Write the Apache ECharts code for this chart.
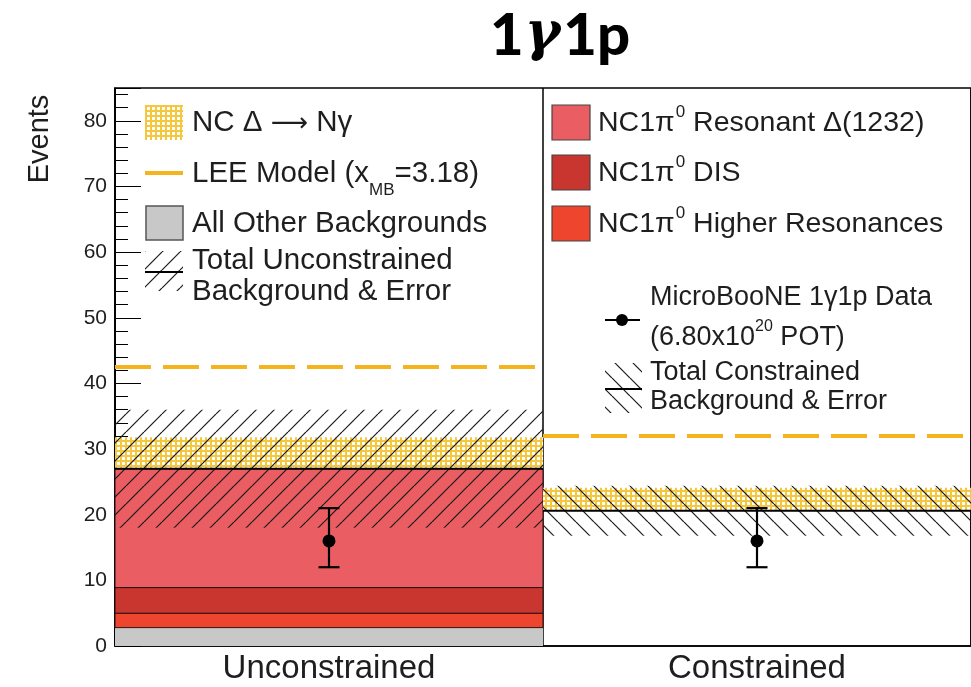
<!DOCTYPE html>
<html><head><meta charset="utf-8">
<script src="https://cdn.jsdelivr.net/npm/echarts@6/dist/echarts.min.js"></script>
<style>html,body{margin:0;padding:0;background:#fff}#c{width:971px;height:687px}</style>
</head><body><div id="c"></div>
<script>
// ---------------- data ----------------
const categories = ['Unconstrained', 'Constrained'];
const otherBkg        = [2.8, null];
const nc1pi0HigherRes = [2.2, null];
const nc1pi0DIS       = [3.9, null];
const nc1pi0ResDelta  = [18.1, null];
const totalBkg        = [27.0, 20.6];
const totalBkgErr     = [9.0, 3.8];
const ncDeltaNgamma   = [4.8, 3.5];
const leeModel        = [42.5, 32.0];
const dataCounts      = [16, 16];
const dataErrDown     = [4.0, 4.0];
const dataErrUp       = [5.0, 5.0];
const yMin = 0, yMax = 85, yInterval = 10;

// ---------------- styles ----------------
const FONT = "'Liberation Sans', Arial, Helvetica, sans-serif";
const TXT = '#1e1e1e';
const C_GRAY = '#C8C8C8', C_HR = '#EE452F', C_DIS = '#C9362F', C_RES = '#EA5E63';
const C_YEL = '#F4C73C', C_LEE = '#F3B41E';

function hatchCanvas(dir) {
  const s = 18, c = document.createElement('canvas'); c.width = s; c.height = s;
  const g = c.getContext('2d'); g.strokeStyle = '#1a1a1a'; g.lineWidth = 1.2;
  for (const o of [-s, 0, s]) {
    g.beginPath();
    if (dir > 0) { g.moveTo(o, s); g.lineTo(o + s, 0); } else { g.moveTo(o, 0); g.lineTo(o + s, s); }
    g.stroke();
  }
  return c;
}
function gridCanvas() {
  const c = document.createElement('canvas'); c.width = 5; c.height = 5;
  const g = c.getContext('2d');
  g.fillStyle = '#fff'; g.fillRect(0, 0, 5, 5);
  g.fillStyle = C_YEL; g.fillRect(0, 0, 5, 2); g.fillRect(0, 0, 2, 5);
  return c;
}
const P_GRID = { image: gridCanvas(), repeat: 'repeat' };
const P_HATCH_F = { image: hatchCanvas(1), repeat: 'repeat' };
const P_HATCH_B = { image: hatchCanvas(-1), repeat: 'repeat' };

// ---------------- build bands from data ----------------
const stackDefs = [
  { vals: otherBkg, color: C_GRAY, stroke: null },
  { vals: nc1pi0HigherRes, color: C_HR, stroke: '#2a1010' },
  { vals: nc1pi0DIS, color: C_DIS, stroke: '#2a1010' },
  { vals: nc1pi0ResDelta, color: C_RES, stroke: '#2a1010' }
];
const cum = categories.map(() => 0);
const stackSeries = stackDefs.map((d, k) => {
  const data = [];
  categories.forEach((c, i) => {
    const v = d.vals[i];
    if (v == null) return;
    data.push([i, cum[i], cum[i] + v]);
    cum[i] += v;
  });
  return { type: 'custom', name: 'stack' + k, renderItem: rectItem(d.color, d.stroke, 1), data, encode: { x: 0, y: [1, 2] }, silent: true };
});
const ncDeltaData = categories.map((c, i) => [i, totalBkg[i], totalBkg[i] + ncDeltaNgamma[i]]);
const errData = categories.map((c, i) => [i, totalBkg[i] - totalBkgErr[i], totalBkg[i] + totalBkgErr[i]]);
const totalData = categories.map((c, i) => [i, totalBkg[i]]);
const leeData = categories.map((c, i) => [i, leeModel[i]]);
const obsData = categories.map((c, i) => [i, dataCounts[i], dataCounts[i] - dataErrDown[i], dataCounts[i] + dataErrUp[i]]);

function rectItem(fill, stroke, lw) {
  return function (params, api) {
    const c = api.value(0), lo = api.value(1), hi = api.value(2);
    const p0 = api.coord([c, lo]), p1 = api.coord([c, hi]);
    const w = api.size([1, 0])[0];
    const f = typeof fill === 'function' ? fill(c) : fill;
    return { type: 'rect', shape: { x: p0[0] - w / 2, y: p1[1], width: w, height: p0[1] - p1[1] },
      style: { fill: f, stroke: stroke || null, lineWidth: stroke ? lw : 0 } };
  };
}
function hlineItem(color, lw, dash) {
  return function (params, api) {
    const c = api.value(0), v = api.value(1);
    const p = api.coord([c, v]); const w = api.size([1, 0])[0];
    return { type: 'line', shape: { x1: p[0] - w / 2, y1: p[1], x2: p[0] + w / 2, y2: p[1] },
      style: { stroke: color, lineWidth: lw, lineDash: dash || null } };
  };
}
function pointItem(params, api) {
  const c = api.value(0);
  const p = api.coord([c, api.value(1)]), lo = api.coord([c, api.value(2)]), hi = api.coord([c, api.value(3)]);
  const cap = 10.5;
  return { type: 'group', children: [
    { type: 'line', shape: { x1: p[0], y1: lo[1], x2: p[0], y2: hi[1] }, style: { stroke: '#000', lineWidth: 2.2 } },
    { type: 'line', shape: { x1: p[0] - cap, y1: lo[1], x2: p[0] + cap, y2: lo[1] }, style: { stroke: '#000', lineWidth: 2.2 } },
    { type: 'line', shape: { x1: p[0] - cap, y1: hi[1], x2: p[0] + cap, y2: hi[1] }, style: { stroke: '#000', lineWidth: 2.2 } },
    { type: 'circle', shape: { cx: p[0], cy: p[1], r: 6.5 }, style: { fill: '#000' } }
  ] };
}

// ---------------- legend helpers ----------------
const mctx = document.createElement('canvas').getContext('2d');
function tw(t, size, fam) { mctx.font = size + 'px ' + (fam || FONT); return mctx.measureText(t).width; }
function seq(x, y, parts) {
  const out = []; let cx = x;
  parts.forEach(p => {
    out.push({ type: 'text', x: cx, y: y + (p.dy || 0), silent: true,
      style: { text: p.t, fontSize: p.s, fontFamily: p.f || FONT, fill: TXT, align: 'left', verticalAlign: 'middle', textAlign: 'left', textVerticalAlign: 'middle' } });
    cx += tw(p.t, p.s, p.f) + (p.gap || 0);
  });
  return out;
}
const LS = 29.5, RS = 28.5, RS2 = 27;
const legend = [].concat(
  // left legend
  [{ type: 'rect', shape: { x: 145, y: 105, width: 38, height: 35 }, style: { fill: P_GRID } }],
  seq(192, 123, [{ t: 'NC Δ ', s: LS }, { t: '⟶', s: 26, f: "'DejaVu Sans', sans-serif", dy: 1 }, { t: ' Nγ', s: LS }]),
  [{ type: 'line', shape: { x1: 145, y1: 173, x2: 183, y2: 173 }, style: { stroke: C_LEE, lineWidth: 4 } }],
  seq(192, 174, [{ t: 'LEE Model (x', s: LS }, { t: 'MB', s: 17, dy: 16 }, { t: '=3.18)', s: LS }]),
  [{ type: 'rect', shape: { x: 146, y: 206, width: 37, height: 34 }, style: { fill: C_GRAY, stroke: '#555', lineWidth: 1.5 } }],
  seq(192, 224, [{ t: 'All Other Backgrounds', s: LS }]),
  [{ type: 'rect', shape: { x: 145, y: 251, width: 38, height: 40 }, style: { fill: P_HATCH_F } },
   { type: 'line', shape: { x1: 145, y1: 272, x2: 183, y2: 272 }, style: { stroke: '#000', lineWidth: 2 } }],
  seq(192, 261, [{ t: 'Total Unconstrained', s: LS }]),
  seq(192, 292, [{ t: 'Background & Error', s: LS }]),
  // right legend
  [{ type: 'rect', shape: { x: 552, y: 105, width: 38, height: 35 }, style: { fill: C_RES, stroke: '#444', lineWidth: 1.2 } }],
  seq(598, 123, [{ t: 'NC1π', s: RS, gap: 1 }, { t: '0', s: 17, dy: -11 }, { t: ' Resonant Δ(1232)', s: RS }]),
  [{ type: 'rect', shape: { x: 552, y: 155, width: 38, height: 35 }, style: { fill: C_DIS, stroke: '#444', lineWidth: 1.2 } }],
  seq(598, 173, [{ t: 'NC1π', s: RS, gap: 1 }, { t: '0', s: 17, dy: -11 }, { t: ' DIS', s: RS }]),
  [{ type: 'rect', shape: { x: 552, y: 206, width: 38, height: 35 }, style: { fill: C_HR, stroke: '#444', lineWidth: 1.2 } }],
  seq(598, 224, [{ t: 'NC1π', s: RS, gap: 1 }, { t: '0', s: 17, dy: -11 }, { t: ' Higher Resonances', s: RS }]),
  [{ type: 'line', shape: { x1: 605, y1: 320, x2: 640, y2: 320 }, style: { stroke: '#000', lineWidth: 2 } },
   { type: 'circle', shape: { cx: 622, cy: 320, r: 6 }, style: { fill: '#000' } }],
  seq(650, 298, [{ t: 'MicroBooNE 1γ1p Data', s: RS2 }]),
  seq(650, 338, [{ t: '(6.80x10', s: RS2 }, { t: '20', s: 16, dy: -11 }, { t: ' POT)', s: RS2 }]),
  [{ type: 'rect', shape: { x: 605, y: 363, width: 37, height: 50 }, style: { fill: P_HATCH_B } },
   { type: 'line', shape: { x1: 605, y1: 389, x2: 642, y2: 389 }, style: { stroke: '#000', lineWidth: 2 } }],
  seq(650, 373, [{ t: 'Total Constrained', s: RS2 }]),
  seq(650, 402, [{ t: 'Background & Error', s: RS2 }]),
  // y-axis name
  [{ type: 'text', x: 40, y: 139, rotation: Math.PI / 2, silent: true,
     style: { text: 'Events', fontSize: 29, fontFamily: FONT, fill: TXT, align: 'center', verticalAlign: 'middle', textAlign: 'center', textVerticalAlign: 'middle' } }]
);

const chart = echarts.init(document.getElementById('c'), null, { renderer: 'canvas' });
chart.setOption({
  backgroundColor: '#fff',
  animation: false,
  title: {
    text: '{a|1}{g|γ}{a|1p}', left: 484, top: 2,
    textStyle: { rich: {
      a: { fontFamily: 'Lato, Inter, sans-serif', fontWeight: 900, fontSize: 58, color: '#000', padding: [0, 1, 0, 1] },
      g: { fontFamily: "'DejaVu Serif', serif", fontStyle: 'italic', fontWeight: 'bold', fontSize: 54, color: '#000', padding: [0, 2, 0, 0] }
    } }
  },
  grid: { left: 115, right: -4, top: 88, bottom: 41, show: true, borderColor: '#000', borderWidth: 1.5, backgroundColor: 'transparent' },
  xAxis: {
    type: 'category', data: categories, boundaryGap: true,
    axisLine: { show: true, lineStyle: { color: '#000', width: 1.5 } },
    axisTick: { show: false },
    axisLabel: { fontSize: 33, color: TXT, fontFamily: FONT, margin: 6 },
    splitLine: { show: true, interval: 0, lineStyle: { color: '#000', width: 1.5 } }
  },
  yAxis: {
    type: 'value', min: yMin, max: yMax, interval: yInterval,
    axisLine: { show: true, lineStyle: { color: '#000', width: 1.5 } },
    axisTick: { show: true, inside: true, length: 26, lineStyle: { color: '#000', width: 1 } },
    minorTick: { show: true, splitNumber: 5, length: 13, lineStyle: { color: '#000', width: 1 } },
    axisLabel: { fontSize: 21, color: TXT, fontFamily: FONT, margin: 8, showMaxLabel: false },
    splitLine: { show: false }
  },
  series: stackSeries.concat([
    { type: 'custom', name: 'NC Delta', renderItem: rectItem(P_GRID, null, 0), data: ncDeltaData, encode: { x: 0, y: [1, 2] }, silent: true },
    { type: 'custom', name: 'Err', renderItem: rectItem(c => c === 0 ? P_HATCH_F : P_HATCH_B, null, 0), data: errData, encode: { x: 0, y: [1, 2] }, silent: true },
    { type: 'custom', name: 'Total', renderItem: hlineItem('#000', 2.2), data: totalData, encode: { x: 0, y: 1 }, silent: true },
    { type: 'custom', name: 'LEE', renderItem: hlineItem(C_LEE, 4, [36, 12]), data: leeData, encode: { x: 0, y: 1 }, silent: true },
    { type: 'custom', name: 'Data', renderItem: pointItem, data: obsData, encode: { x: 0, y: [1, 2, 3] }, silent: true }
  ]),
  graphic: { elements: legend }
});
</script></body></html>
